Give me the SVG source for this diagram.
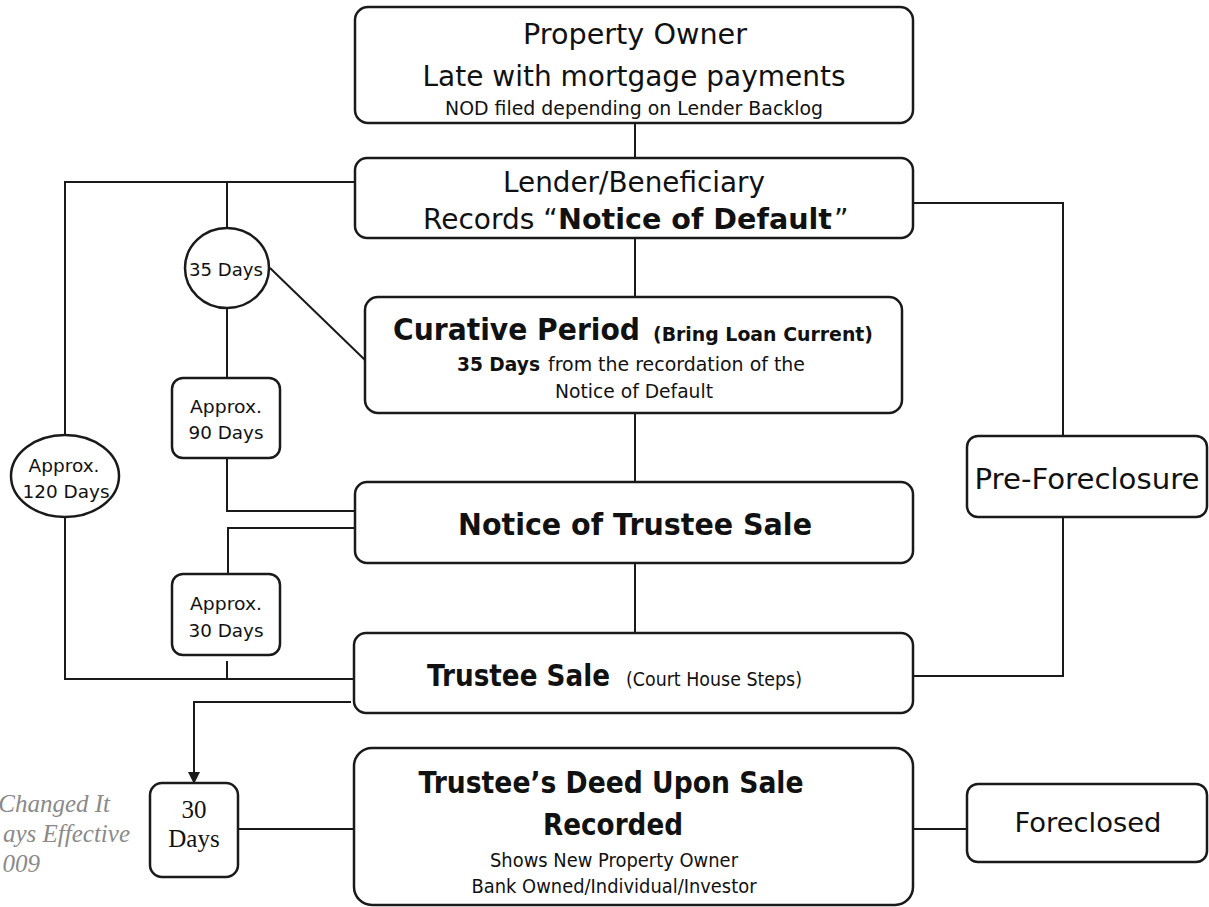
<svg xmlns="http://www.w3.org/2000/svg" width="1209" height="907" viewBox="0 0 1209 907">
<style>
.box{fill:#fff;stroke:#1a1a1a;stroke-width:2.5}
.ln{fill:none;stroke:#1a1a1a;stroke-width:2}
text{font-family:"DejaVu Sans","Liberation Sans",sans-serif;fill:#111}
.c{text-anchor:middle}
.b{font-weight:bold}
.tm{font-family:"Liberation Serif","Times New Roman",serif}
.note{font-family:"Liberation Serif","Times New Roman",serif;font-style:italic;fill:#8a8a8a;font-size:25px;text-anchor:end}
</style>
<defs>
<marker id="arr" markerWidth="12" markerHeight="12" refX="10" refY="6" orient="auto" markerUnits="userSpaceOnUse">
<path d="M0,0 L12,6 L0,12 Z" fill="#1a1a1a"/>
</marker>
</defs>
<rect width="1209" height="907" fill="#fff"/>

<g id="connectors">
<path class="ln" d="M635,123 V158"/>
<path class="ln" d="M355,182 H65 V435"/>
<path class="ln" d="M227,182 V228"/>
<path class="ln" d="M227,308 V378"/>
<path class="ln" d="M270,268 L365,360"/>
<path class="ln" d="M635,238 V297"/>
<path class="ln" d="M635,413 V482"/>
<path class="ln" d="M227,458 V511 H355"/>
<path class="ln" d="M355,528 H228 V574"/>
<path class="ln" d="M227,661 V679"/>
<path class="ln" d="M65,517 V679 H354"/>
<path class="ln" d="M635,563 V633"/>
<path class="ln" d="M913,203 H1063 V436"/>
<path class="ln" d="M1063,517 V676 H913"/>
<path class="ln" d="M351,702 H194 V782" marker-end="url(#arr)"/>
<path class="ln" d="M238,829 H354"/>
<path class="ln" d="M913,829 H967"/>
</g>

<g id="note">
<text class="note" x="110" y="812">Changed It</text>
<text class="note" x="130" y="842">ays Effective</text>
<text class="note" x="40" y="872">009</text>
</g>

<g id="property-owner">
<rect class="box" x="355" y="7" width="558" height="116" rx="13"/>
<text class="c" x="635" y="44" font-size="28" textLength="224" lengthAdjust="spacingAndGlyphs">Property Owner</text>
<text class="c" x="634" y="86" font-size="28" textLength="423" lengthAdjust="spacingAndGlyphs">Late with mortgage payments</text>
<text class="c" x="634" y="115" font-size="19" textLength="378" lengthAdjust="spacingAndGlyphs">NOD filed depending on Lender Backlog</text>
</g>

<g id="lender">
<rect class="box" x="355" y="158" width="558" height="80" rx="12"/>
<text class="c" x="634" y="192" font-size="28" textLength="262" lengthAdjust="spacingAndGlyphs">Lender/Beneficiary</text>
<text x="423" y="229" font-size="28">Records “</text>
<text class="b" x="558" y="229" font-size="28" textLength="274" lengthAdjust="spacingAndGlyphs">Notice of Default</text>
<text x="834" y="229" font-size="28">”</text>
</g>

<g id="days35">
<ellipse class="box" cx="227" cy="268" rx="42" ry="40"/>
<text class="c" x="226" y="276" font-size="18" textLength="74" lengthAdjust="spacingAndGlyphs">35 Days</text>
</g>

<g id="curative">
<rect class="box" x="365" y="297" width="537" height="116" rx="13"/>
<text class="b" x="393" y="340" font-size="31" textLength="247" lengthAdjust="spacingAndGlyphs">Curative Period</text>
<text class="b" x="653" y="341" font-size="19" textLength="220" lengthAdjust="spacingAndGlyphs">(Bring Loan Current)</text>
<text class="b" x="457" y="371" font-size="19" textLength="83" lengthAdjust="spacingAndGlyphs">35 Days</text>
<text x="548" y="371" font-size="19" textLength="257" lengthAdjust="spacingAndGlyphs">from the recordation of the</text>
<text class="c" x="634" y="398" font-size="19" textLength="158" lengthAdjust="spacingAndGlyphs">Notice of Default</text>
</g>

<g id="approx90">
<rect class="box" x="172" y="378" width="108" height="80" rx="11"/>
<text class="c" x="226" y="413" font-size="18" textLength="72" lengthAdjust="spacingAndGlyphs">Approx.</text>
<text class="c" x="226" y="439" font-size="18" textLength="75" lengthAdjust="spacingAndGlyphs">90 Days</text>
</g>

<g id="approx120">
<ellipse class="box" cx="65" cy="476" rx="54" ry="41"/>
<text class="c" x="64" y="472" font-size="18" textLength="71" lengthAdjust="spacingAndGlyphs">Approx.</text>
<text class="c" x="66" y="498" font-size="18" textLength="87" lengthAdjust="spacingAndGlyphs">120 Days</text>
</g>

<g id="pre-foreclosure">
<rect class="box" x="967" y="436" width="240" height="81" rx="11"/>
<text class="c" x="1087" y="489" font-size="28" textLength="225" lengthAdjust="spacingAndGlyphs">Pre-Foreclosure</text>
</g>

<g id="notice-trustee-sale">
<rect class="box" x="355" y="482" width="558" height="81" rx="12"/>
<text class="b c" x="635" y="535" font-size="31" textLength="354" lengthAdjust="spacingAndGlyphs">Notice of Trustee Sale</text>
</g>

<g id="approx30">
<rect class="box" x="172" y="574" width="108" height="81" rx="11"/>
<text class="c" x="226" y="610" font-size="18" textLength="72" lengthAdjust="spacingAndGlyphs">Approx.</text>
<text class="c" x="226" y="637" font-size="18" textLength="75" lengthAdjust="spacingAndGlyphs">30 Days</text>
</g>

<g id="trustee-sale">
<rect class="box" x="354" y="633" width="559" height="80" rx="12"/>
<text class="b" x="427" y="686" font-size="31" textLength="183" lengthAdjust="spacingAndGlyphs">Trustee Sale</text>
<text x="626" y="686" font-size="19" textLength="176" lengthAdjust="spacingAndGlyphs">(Court House Steps)</text>
</g>

<g id="days30">
<rect class="box" x="150" y="783" width="88" height="94" rx="12"/>
<text class="tm c" x="194" y="818" font-size="25">30</text>
<text class="tm c" x="194" y="847" font-size="25">Days</text>
</g>

<g id="trustee-deed">
<rect class="box" x="354" y="748" width="559" height="157" rx="18"/>
<text class="b c" x="611" y="793" font-size="31" textLength="385" lengthAdjust="spacingAndGlyphs">Trustee’s Deed Upon Sale</text>
<text class="b c" x="613" y="835" font-size="31" textLength="140" lengthAdjust="spacingAndGlyphs">Recorded</text>
<text class="c" x="614" y="867" font-size="19" textLength="248" lengthAdjust="spacingAndGlyphs">Shows New Property Owner</text>
<text class="c" x="614" y="893" font-size="19" textLength="285" lengthAdjust="spacingAndGlyphs">Bank Owned/Individual/Investor</text>
</g>

<g id="foreclosed">
<rect class="box" x="967" y="784" width="240" height="78" rx="11"/>
<text class="c" x="1088" y="832" font-size="27" textLength="147" lengthAdjust="spacingAndGlyphs">Foreclosed</text>
</g>
</svg>
